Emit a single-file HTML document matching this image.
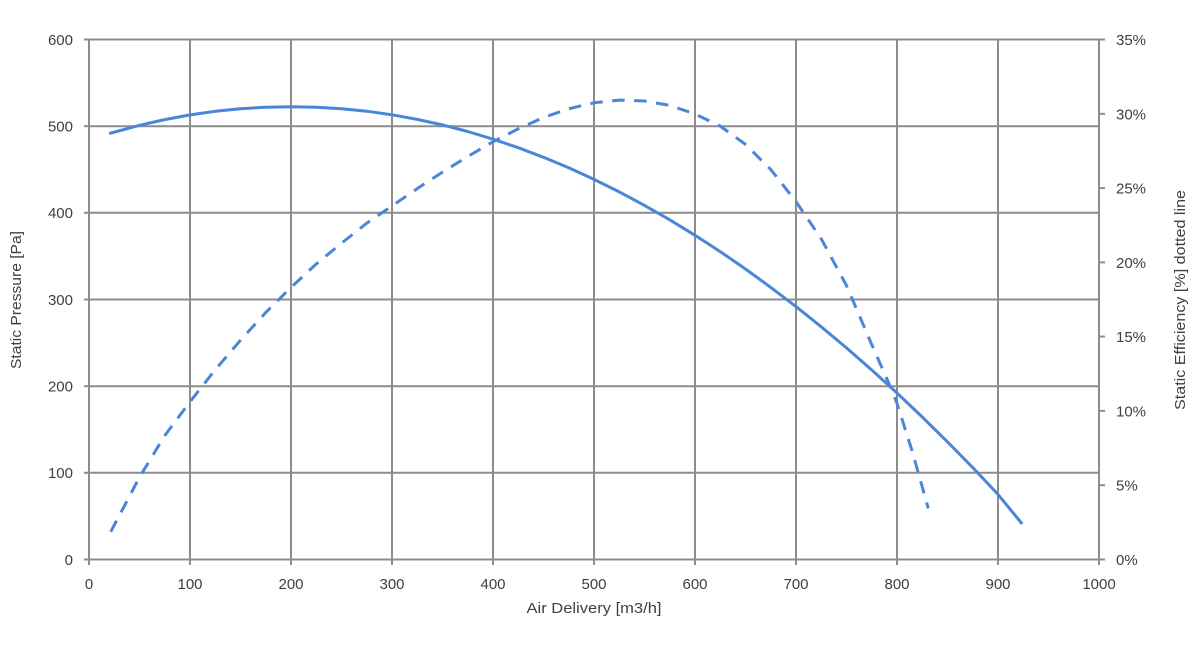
<!DOCTYPE html>
<html>
<head>
<meta charset="utf-8">
<style>
html,body{margin:0;padding:0;background:#fff;}
svg{display:block;}
text{font-family:"Liberation Sans",Arial,sans-serif;fill:#404040;font-size:15px;}
</style>
</head>
<body>
<svg width="1200" height="645" viewBox="0 0 1200 645" xmlns="http://www.w3.org/2000/svg">
<rect width="1200" height="645" fill="#fff"/>
<!-- grid -->
<g stroke="#8c8c8c" stroke-width="2" fill="none">
  <line x1="89" y1="39.5" x2="1099" y2="39.5"/>
  <line x1="89" y1="126.2" x2="1099" y2="126.2"/>
  <line x1="89" y1="212.8" x2="1099" y2="212.8"/>
  <line x1="89" y1="299.5" x2="1099" y2="299.5"/>
  <line x1="89" y1="386.2" x2="1099" y2="386.2"/>
  <line x1="89" y1="472.8" x2="1099" y2="472.8"/>
  <line x1="84" y1="559.5" x2="1099" y2="559.5"/>
  <line x1="190" y1="39.5" x2="190" y2="565"/>
  <line x1="291" y1="39.5" x2="291" y2="565"/>
  <line x1="392" y1="39.5" x2="392" y2="565"/>
  <line x1="493" y1="39.5" x2="493" y2="565"/>
  <line x1="594" y1="39.5" x2="594" y2="565"/>
  <line x1="695" y1="39.5" x2="695" y2="565"/>
  <line x1="796" y1="39.5" x2="796" y2="565"/>
  <line x1="897" y1="39.5" x2="897" y2="565"/>
  <line x1="998" y1="39.5" x2="998" y2="565"/>
  <line x1="1099" y1="39.5" x2="1099" y2="565"/>
  <line x1="89" y1="39.5" x2="89" y2="565"/>
  <!-- left ticks -->
  <line x1="84" y1="39.5" x2="89" y2="39.5"/>
  <line x1="84" y1="126.2" x2="89" y2="126.2"/>
  <line x1="84" y1="212.8" x2="89" y2="212.8"/>
  <line x1="84" y1="299.5" x2="89" y2="299.5"/>
  <line x1="84" y1="386.2" x2="89" y2="386.2"/>
  <line x1="84" y1="472.8" x2="89" y2="472.8"/>
  <!-- right ticks -->
  <line x1="1099" y1="39.5" x2="1105" y2="39.5"/>
  <line x1="1099" y1="113.8" x2="1105" y2="113.8"/>
  <line x1="1099" y1="188.1" x2="1105" y2="188.1"/>
  <line x1="1099" y1="262.4" x2="1105" y2="262.4"/>
  <line x1="1099" y1="336.6" x2="1105" y2="336.6"/>
  <line x1="1099" y1="410.9" x2="1105" y2="410.9"/>
  <line x1="1099" y1="485.2" x2="1105" y2="485.2"/>
  <line x1="1099" y1="559.5" x2="1105" y2="559.5"/>
</g>
<!-- left tick labels -->
<g text-anchor="end">
  <text x="73" y="45">600</text>
  <text x="73" y="131.5">500</text>
  <text x="73" y="218">400</text>
  <text x="73" y="305">300</text>
  <text x="73" y="391.5">200</text>
  <text x="73" y="478">100</text>
  <text x="73" y="565">0</text>
</g>
<!-- bottom tick labels -->
<g text-anchor="middle">
  <text x="89" y="589">0</text>
  <text x="190" y="589">100</text>
  <text x="291" y="589">200</text>
  <text x="392" y="589">300</text>
  <text x="493" y="589">400</text>
  <text x="594" y="589">500</text>
  <text x="695" y="589">600</text>
  <text x="796" y="589">700</text>
  <text x="897" y="589">800</text>
  <text x="998" y="589">900</text>
  <text x="1099" y="589">1000</text>
</g>
<!-- right tick labels -->
<g text-anchor="start">
  <text x="1116" y="45">35%</text>
  <text x="1116" y="119.3">30%</text>
  <text x="1116" y="193.6">25%</text>
  <text x="1116" y="267.9">20%</text>
  <text x="1116" y="342.1">15%</text>
  <text x="1116" y="416.4">10%</text>
  <text x="1116" y="490.7">5%</text>
  <text x="1116" y="565">0%</text>
</g>
<!-- axis titles -->
<text x="594" y="613" text-anchor="middle" textLength="135" lengthAdjust="spacingAndGlyphs">Air Delivery [m3/h]</text>
<text transform="translate(21,300) rotate(-90)" text-anchor="middle" textLength="138" lengthAdjust="spacingAndGlyphs">Static Pressure [Pa]</text>
<text transform="translate(1185,300) rotate(-90)" text-anchor="middle" textLength="220" lengthAdjust="spacingAndGlyphs">Static Efficiency [%] dotted line</text>
<!-- solid pressure curve -->
<polyline fill="none" stroke="#4a86d8" stroke-width="3" stroke-linejoin="round" stroke-linecap="butt"
points="109.2,133.5 139.5,125.3 164.75,119.6 190,114.9 215.25,111.3 240.5,108.7 265.75,107.2 291,106.7 316.25,107.2 341.5,108.7 366.75,111.2 392,114.8 417.25,119.4 442.5,124.9 467.75,131.5 493,139.2 518.25,147.7 543.5,157.3 568.75,167.8 594,179.4 619.25,191.9 644.5,205.4 669.75,219.8 695,235.3 720.25,251.6 745.5,269.0 770.75,287.4 796,306.6 821.25,326.8 846.5,347.9 871.75,370.0 897,393.0 922.25,417.0 947.5,441.9 972.75,467.6 998,494.4 1022.2,524.0"/>
<!-- dashed efficiency curve -->
<polyline fill="none" stroke="#4a86d8" stroke-width="3" stroke-linejoin="round" stroke-linecap="butt" stroke-dasharray="12.5 9.5"
points="110.7,531.8 139.5,477.2 164.75,435.6 190,401.8 215.25,369.7 240.5,340.2 265.75,312.5 291,287.4 316.25,264.0 341.5,243.2 366.75,223.2 392,205.9 417.25,188.6 442.5,172.1 467.75,156.5 493,141.8 518.25,128.8 543.5,117.5 568.75,108.8 594,102.8 619.25,100.1 644.5,101.0 669.75,105.4 695,114.0 720.25,126.1 745.5,144.4 770.75,169.5 796,201.6 821.25,238.8 846.5,285.6 871.75,344.6 892,390.5 897,403.5 912.2,451.2 928.3,508.4"/>
</svg>
</body>
</html>
